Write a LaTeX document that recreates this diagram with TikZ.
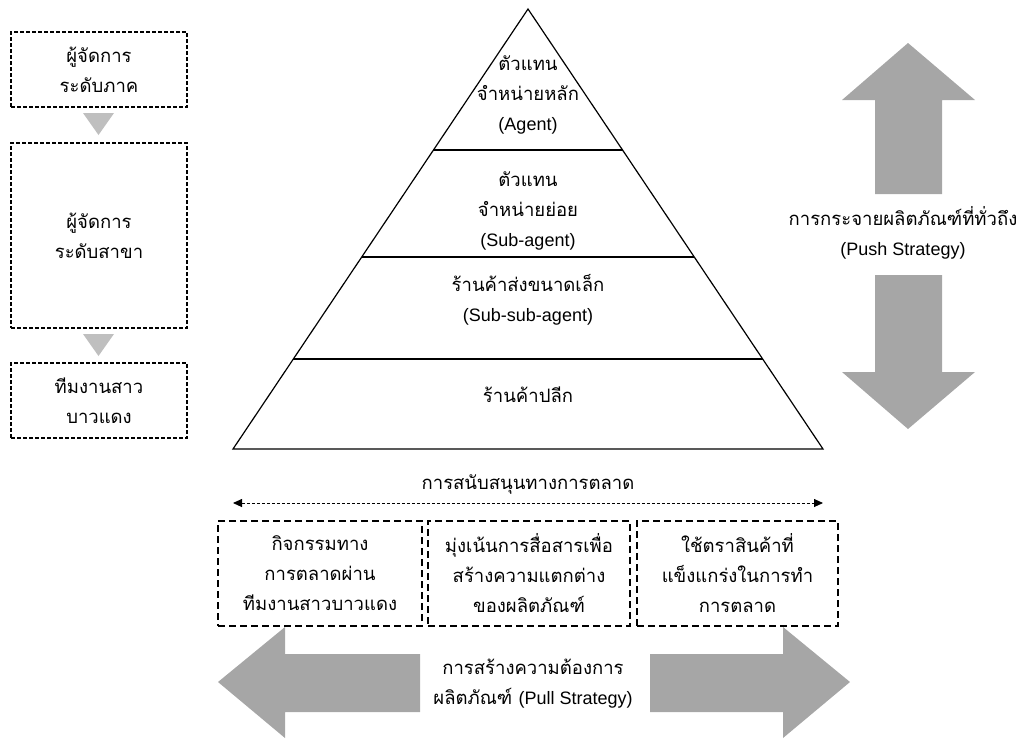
\documentclass[tikz,border=0pt]{standalone}
\usepackage{fontspec}
\setmainfont[Script=Thai]{Loma}
\newfontfamily\latfont{Liberation Sans}
\newcommand{\en}[1]{{\latfont\fontsize{18}{30}\selectfont #1}}
\definecolor{arrowgray}{RGB}{166,166,166}
\definecolor{trigray}{RGB}{191,191,191}
\usetikzlibrary{arrows.meta,calc}

\begin{document}
\begin{tikzpicture}[x=1pt,y=-1pt,
    txt/.style={font=\fontsize{18.5}{30}\selectfont,align=center,inner sep=0pt},
    sidebox/.style={txt,draw,line width=1.3pt,dash pattern=on 4pt off 2pt,minimum width=176pt},
    supbox/.style={txt,draw,line width=1.3pt,dash pattern=on 7pt off 4pt,minimum height=105pt},
    bigarrow/.style={fill=arrowgray}]
  \useasboundingbox (0,0) rectangle (1025,740);
  % left column
  \node[sidebox,minimum height=75pt] (rg) at (99,69.5) {ผู้จัดการ\\ระดับภาค};
  \node[sidebox,minimum height=185pt] (br) at (99,235.5) {ผู้จัดการ\\ระดับสาขา};
  \node[sidebox,minimum height=75pt] (tm) at (99,400.5) {ทีมงานสาว\\บาวแดง};
  \fill[trigray] (83,113) -- (114,113) -- (98.5,135) -- cycle;
  \fill[trigray] (83,334) -- (114,334) -- (98.5,356) -- cycle;
  % pyramid
  \coordinate (apex) at (528,9);
  \coordinate (pl) at (233,449);
  \coordinate (pr) at (823,449);
  \draw[line width=1.2pt] (apex) -- (pr) -- (pl) -- cycle;
  \foreach \h in {150,257,359}
    \draw[line width=1.2pt] ($(apex)!{(\h-9)/440}!(pl)$) -- ($(apex)!{(\h-9)/440}!(pr)$);
  \node[txt] (agent) at (528,95) {ตัวแทน\\จำหน่ายหลัก\\\en{(Agent)}};
  \node[txt] (subagent) at (528,211) {ตัวแทน\\จำหน่ายย่อย\\\en{(Sub-agent)}};
  \node[txt] (subsub) at (528,300) {ร้านค้าส่งขนาดเล็ก\\\en{(Sub-sub-agent)}};
  \node[txt] (retail) at (528,395) {ร้านค้าปลีก};
  % push
  \fill[bigarrow] (908,43) -- (975,100) -- (942,100) -- (942,194) -- (875,194) -- (875,100) -- (842,100) -- cycle;
  \fill[bigarrow] (875,275) -- (942,275) -- (942,372) -- (975,372) -- (908,429) -- (842,372) -- (875,372) -- cycle;
  \node[txt] (push) at (903,233) {การกระจายผลิตภัณฑ์ที่ทั่วถึง\\\en{(Push Strategy)}};
  % marketing support
  \node[txt] (sup) at (528,485) {การสนับสนุนทางการตลาด};
  \coordinate (sl) at (233,503);
  \coordinate (sr) at (823,503);
  \draw[{Triangle[length=9pt,width=8pt]}-{Triangle[length=9pt,width=8pt]},line width=0.9pt,dash pattern=on 3pt off 2pt] (sl) -- (sr);
  \node[supbox,minimum width=204pt] (act) at (320,573.5) {กิจกรรมทาง\\การตลาดผ่าน\\ทีมงานสาวบาวแดง};
  \node[supbox,minimum width=202pt] (com) at (529,573.5) {มุ่งเน้นการสื่อสารเพื่อ\\สร้างความแตกต่าง\\ของผลิตภัณฑ์};
  \node[supbox,minimum width=201pt] (brand) at (737.5,573.5) {ใช้ตราสินค้าที่\\แข็งแกร่งในการทำ\\การตลาด};
  % pull
  \fill[bigarrow] (218,682) -- (285,627) -- (285,654) -- (420,654) -- (420,712) -- (285,712) -- (285,738) -- cycle;
  \fill[bigarrow] (850,682) -- (783,627) -- (783,654) -- (650,654) -- (650,712) -- (783,712) -- (783,738) -- cycle;
  \node[txt] (pull) at (533,684) {การสร้างความต้องการ\\ผลิตภัณฑ์ \en{(Pull Strategy)}};
\end{tikzpicture}
\end{document}
